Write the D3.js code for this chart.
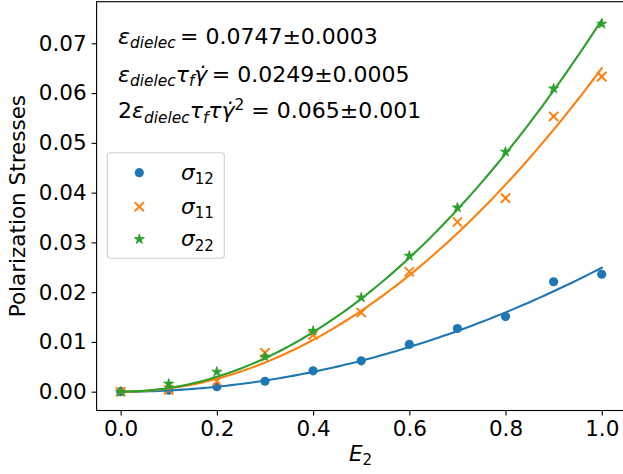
<!DOCTYPE html>
<html>
<head>
<meta charset="utf-8">
<script src="https://cdn.jsdelivr.net/npm/d3@7"></script>
<style>
  html, body { margin: 0; padding: 0; background: #fff; }
  svg { display: block; }
  text { font-family: "DejaVu Sans", sans-serif; fill: #000; }
</style>
</head>
<body>
<svg id="chart" width="623" height="474"></svg>
<script>
// ---------------- data ----------------
const E2 = [0.0, 0.1, 0.2, 0.3, 0.4, 0.5, 0.6, 0.7, 0.8, 0.9, 1.0];
const sigma12 = [0.0000, 0.0003, 0.0010, 0.0021, 0.0042, 0.0062, 0.0095, 0.0127, 0.0151, 0.0221, 0.0236];
const sigma11 = [0.0000, 0.0004, 0.0021, 0.0078, 0.0114, 0.0159, 0.0241, 0.0341, 0.0389, 0.0553, 0.0633];
const sigma22 = [0.0000, 0.0016, 0.0040, 0.0070, 0.0122, 0.0189, 0.0273, 0.0370, 0.0482, 0.0609, 0.0739];
// fitted coefficients (curve = coef * E2^2), as printed on the chart
const fit12 = 0.0249;
const fit11 = 0.065;
const fit22 = 0.0747;
const xTicks = [0.0, 0.2, 0.4, 0.6, 0.8, 1.0];
const yTicks = [0.00, 0.01, 0.02, 0.03, 0.04, 0.05, 0.06, 0.07];
const seriesNames = ["12", "11", "22"];
const colors = ["#1f77b4", "#ff7f0e", "#2ca02c"];

// ---------------- layout ----------------
const svg = d3.select("#chart");
const L = 96.6, R = 625.8, T = 1.7, B = 410.5;
const x = d3.scaleLinear().domain([-0.05, 1.05]).range([L, R]);
const y = d3.scaleLinear().domain([-0.003777, 0.07836]).range([B, T]);
const FS = 21.5;

// fit curves sampled over the x-range
const grid = d3.range(0, 101).map(i => i / 100);
const fits = [fit12, fit11, fit22];
const dataSets = [sigma12, sigma11, sigma22];

const plot = svg.append("g");

// markers
const starPath = d3.symbol().type(d3.symbolStar).size(32)();
const circlePath = d3.symbol().type(d3.symbolCircle).size(66)();
const xs = 4.6;
const crossPath = `M${-xs},${-xs}L${xs},${xs}M${-xs},${xs}L${xs},${-xs}`;

function drawMarker(g, i, cx, cy) {
  if (i === 0) {
    g.append("path").attr("d", circlePath).attr("transform", `translate(${cx},${cy})`)
      .attr("fill", colors[0]);
  } else if (i === 1) {
    g.append("path").attr("d", crossPath).attr("transform", `translate(${cx},${cy})`)
      .attr("fill", "none").attr("stroke", colors[1]).attr("stroke-width", 2);
  } else {
    g.append("path").attr("d", starPath).attr("transform", `translate(${cx},${cy})`)
      .attr("fill", colors[2]).attr("stroke", colors[2]).attr("stroke-width", 0.8)
      .attr("stroke-linejoin", "miter");
  }
}

dataSets.forEach((ds, i) => {
  const g = plot.append("g");
  ds.forEach((v, j) => drawMarker(g, i, x(E2[j]), y(v)));
});

const line = d3.line().x(d => x(d[0])).y(d => y(d[1]));
fits.forEach((c, i) => {
  plot.append("path")
    .attr("d", line(grid.map(e => [e, c * e * e])))
    .attr("fill", "none").attr("stroke", colors[i]).attr("stroke-width", 2.1)
    .attr("stroke-linecap", "square");
});

// ---------------- axes ----------------
const xAxis = d3.axisBottom(x).tickValues(xTicks).tickFormat(d3.format(".1f")).tickSizeOuter(0).tickSize(5).tickPadding(5);
const yAxis = d3.axisLeft(y).tickValues(yTicks).tickFormat(d3.format(".2f")).tickSizeOuter(0).tickSize(5).tickPadding(5);

const gx = svg.append("g").attr("transform", `translate(0,${B})`).call(xAxis);
const gy = svg.append("g").attr("transform", `translate(${L},0)`).call(yAxis);
[gx, gy].forEach(g => {
  g.select(".domain").remove();
  g.selectAll(".tick line").attr("stroke", "#000").attr("stroke-width", 1.1);
  g.selectAll(".tick text").attr("font-family", "DejaVu Sans").attr("font-size", FS).attr("fill", "#000");
});
gx.selectAll(".tick text").attr("dy", "0.74em");

// spines
svg.append("rect").attr("x", L).attr("y", T).attr("width", R - L).attr("height", B - T)
  .attr("fill", "none").attr("stroke", "#000").attr("stroke-width", 1.1);

// ---------------- math text helper ----------------
function mathText(g, x0, y0, parts, size) {
  const t = g.append("text").attr("x", x0).attr("y", y0).attr("font-size", size);
  let cur = 0;
  parts.forEach(p => {
    let target = 0, fs = size;
    if (p.sub) { target = size * 0.2; fs = size * 0.7; }
    if (p.sup) { target = -size * 0.38; fs = size * 0.7; }
    const ts = t.append("tspan").text(p.t).attr("font-size", fs);
    if (p.it) ts.attr("font-style", "italic");
    if (target !== cur) { ts.attr("dy", target - cur); cur = target; }
    if (p.dx) ts.attr("dx", p.dx);
  });
  return t;
}

// annotations
const ann = svg.append("g");
mathText(ann, 118, 44, [
  {t: "ε", it: true}, {t: "dielec", it: true, sub: true},
  {t: "\u2009= 0.0747±0.0003"}
], 22);
mathText(ann, 118, 81.5, [
  {t: "ε", it: true}, {t: "dielec", it: true, sub: true},
  {t: "τ", it: true}, {t: "f", it: true, sub: true},
  {t: "γ\u0307", it: true},
  {t: "\u2009= 0.0249±0.0005"}
], 22);
mathText(ann, 118, 118.3, [
  {t: "2"}, {t: "ε", it: true}, {t: "dielec", it: true, sub: true},
  {t: "τ", it: true}, {t: "f", it: true, sub: true},
  {t: "τγ\u0307", it: true}, {t: "2", sup: true},
  {t: " = 0.065±0.001"}
], 22);

// ---------------- legend ----------------
const lg = svg.append("g");
lg.append("rect").attr("x", 107.3).attr("y", 152.7).attr("width", 117).attr("height", 105.6)
  .attr("rx", 3).attr("fill", "#fff").attr("fill-opacity", 0.8)
  .attr("stroke", "#d0d0d0").attr("stroke-width", 1.1);
const legY = [172.7, 206.7, 239.2];
seriesNames.forEach((nm, i) => {
  drawMarker(lg, i, 139.3, legY[i]);
  mathText(lg, 181, legY[i] + 7, [{t: "σ", it: true}, {t: nm, sub: true}], FS);
});

// ---------------- axis labels ----------------
mathText(svg, 349, 461, [{t: "E", it: true}, {t: "2", sub: true}], FS);
svg.append("text")
  .attr("transform", `translate(25,${(T + B) / 2}) rotate(-90)`)
  .attr("text-anchor", "middle").attr("font-size", FS)
  .text("Polarization Stresses");
</script>
</body>
</html>
